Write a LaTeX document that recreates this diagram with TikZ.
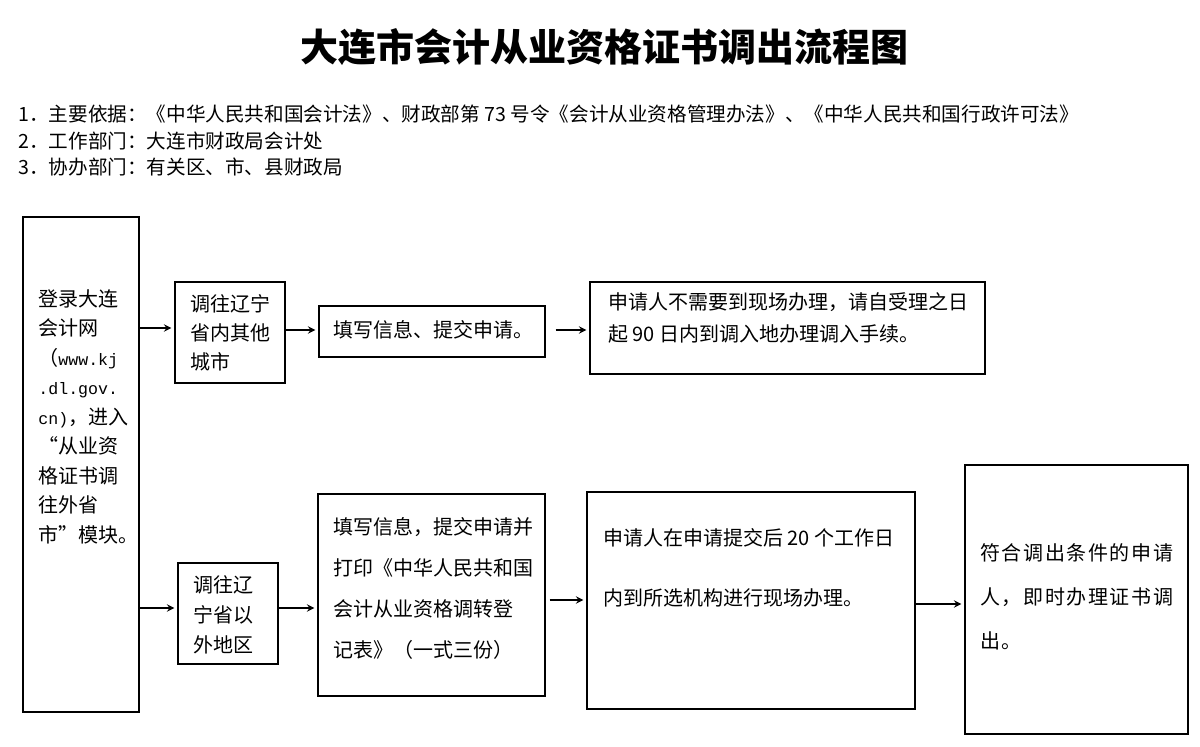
\documentclass[tikz,border=0pt]{standalone}
\usepackage{fontspec}
\setmainfont{Noto Sans CJK SC}
\newfontfamily\cjkwide[LetterSpace=8]{Noto Sans CJK SC}
\newfontfamily\latinmono{Liberation Mono}
\newcommand{\lat}[1]{{\latinmono\fontsize{8.3}{14.75}\selectfont #1}}
\usetikzlibrary{arrows,positioning,fit,calc}

\begin{document}
\begin{tikzpicture}[
  x=0.5pt, y=-0.5pt,
  box/.style={rectangle, draw, line width=0.65pt, inner sep=0pt},
  txt/.style={inner sep=0pt, anchor=north west, align=left},
  arrow/.style={->, >=stealth, line width=0.65pt, shorten >=1.5pt}
]
  \useasboundingbox (0,0) rectangle (1200,747);

  \node[font=\bfseries\fontsize{19}{19}\selectfont] (title) at (604,47) {大连市会计从业资格证书调出流程图};
  \node[txt, font=\fontsize{9.8}{13.25}\selectfont] (basis) at (18,105)
    {1．主要依据：《中华人民共和国会计法》、财政部第 73 号令《会计从业资格管理办法》、《中华人民共和国行政许可法》\\
     2．工作部门：大连市财政局会计处\\
     3．协办部门：有关区、市、县财政局};

  % boxes
  \node[box, fit={(23,217) (139,712)}] (login) {};
  \node[box, fit={(175,282) (285,383)}] (inner) {};
  \node[box, fit={(319,306) (545,357)}] (fillA) {};
  \node[box, fit={(590,282) (985,374)}] (noVisit) {};
  \node[box, fit={(178,563) (278,664)}] (outer) {};
  \node[box, fit={(318,494) (545,696)}] (fillB) {};
  \node[box, fit={(587,492) (915,709)}] (visit) {};
  \node[box, fit={(965,465) (1188,734)}] (done) {};

  % texts
  \node[txt, font=\fontsize{10}{14.75}\selectfont] (loginT) at (38,289)
    {登录大连\\会计网\\（\lat{www.kj}\\\lat{.dl.gov.}\\\lat{cn)}，进入\\“从业资\\格证书调\\往外省\\市”模块。};
  \node[txt, font=\fontsize{10}{14.5}\selectfont] (innerT) at (190,294) {调往辽宁\\省内其他\\城市};
  \node[txt, font=\fontsize{10}{16}\selectfont] (fillAT) at (333,320) {填写信息、提交申请。};
  \node[txt, font=\fontsize{10}{16}\selectfont] (noVisitT) at (608,292)
    {申请人不需要到现场办理，请自受理之日\\起 90 日内到调入地办理调入手续。};
  \node[txt, font=\fontsize{10}{15}\selectfont] (outerT) at (193,575) {调往辽\\宁省以\\外地区};
  \node[txt, font=\fontsize{10}{20.5}\selectfont] (fillBT) at (333,517)
    {填写信息，提交申请并\\打印《中华人民共和国\\会计从业资格调转登\\记表》（一式三份）};
  \node[txt, font=\fontsize{10}{30}\selectfont] (visitT) at (603,528)
    {申请人在申请提交后 20 个工作日\\内到所选机构进行现场办理。};
  \node[txt, font=\cjkwide\fontsize{10}{22}\selectfont] (doneT) at (980,543)
    {符合调出条件的申请\\人，即时办理证书调\\出。};

  % connectors
  \draw[arrow] (login.east |- 0,328) -- (inner.west |- 0,328);
  \draw[arrow] (inner.east |- 0,330) -- (fillA.west |- 0,330);
  \draw[arrow, shorten <=5pt] (fillA.east |- 0,330) -- (noVisit.west |- 0,330);
  \draw[arrow] (login.east |- 0,608) -- (outer.west |- 0,608);
  \draw[arrow] (outer.east |- 0,608) -- (fillB.west |- 0,608);
  \draw[arrow, shorten <=2pt] (fillB.east |- 0,600) -- (visit.west |- 0,600);
  \draw[arrow] (visit.east |- 0,604) -- (done.west |- 0,604);
\end{tikzpicture}
\end{document}
